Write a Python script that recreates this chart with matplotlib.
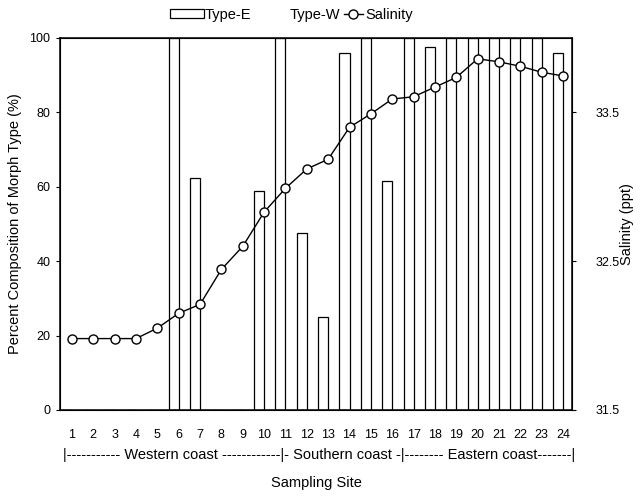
import matplotlib
matplotlib.use("Agg")
import matplotlib.pyplot as plt
from matplotlib.patches import Patch
from matplotlib.lines import Line2D

plt.rcParams["font.family"] = ["Liberation Sans", "DejaVu Sans"]

# ── data ──
sites = list(range(1, 25))
type_e = [0, 0, 0, 0, 0, 100, 62.5, 0, 0, 59, 100, 47.5, 25, 96, 100, 61.5,
          100, 97.5, 100, 100, 100, 100, 100, 96]
type_w = [100 - v for v in type_e]
salinity = [31.98, 31.98, 31.98, 31.98, 32.05, 32.15, 32.21, 32.445, 32.60, 32.83,
            32.99, 33.12, 33.185, 33.40, 33.49, 33.59, 33.605, 33.67, 33.735, 33.86,
            33.84, 33.81, 33.77, 33.745]
left_ticks = [0, 20, 40, 60, 80, 100]
right_ticks = [31.5, 32.5, 33.5]
coast_text = ("|" + "-" * 11 + " Western coast " + "-" * 12
              + "|- Southern coast -|" + "-" * 8 + " Eastern coast" + "-" * 7 + "|")

W, H = 641, 496
fig = plt.figure(figsize=(W / 100, H / 100), dpi=100)
ax = fig.add_axes([60 / W, 1 - 410 / H, 512 / W, 372 / H])

bw = 0.47
ax.bar(sites, type_w, width=bw, align="edge", color="white",
       edgecolor="none", zorder=1)
ax.bar(sites, type_e, width=-bw, align="edge", color="white",
       edgecolor="black", linewidth=0.9, zorder=2)

ax.set_xlim(0.44, 24.42)
ax.set_ylim(0, 100)
ax.set_yticks(left_ticks)
ax.set_xticks(sites)
ax.set_xticklabels([str(s) for s in sites], fontsize=9)
ax.tick_params(axis="x", length=0, pad=14)
ax.tick_params(axis="y", direction="out", length=3, labelsize=9, pad=4)
ax.set_ylabel("Percent Composition of Morph Type (%)", fontsize=10.5, labelpad=5)

for sp in ax.spines.values():
    sp.set_linewidth(1.1)

ax2 = ax.twinx()
ax2.plot(sites, salinity, color="black", linewidth=1.0, marker="o",
         markersize=6.5, markerfacecolor="white", markeredgecolor="black",
         markeredgewidth=1.0, zorder=3)
ax2.set_ylim(31.5, 34.0)
ax2.set_yticks(right_ticks)
ax2.set_yticklabels([f"{t:.1f}" for t in right_ticks])
ax2.tick_params(axis="y", direction="out", length=3, labelsize=9, pad=14)
ax2.set_ylabel("Salinity (ppt)", fontsize=10.5, labelpad=0)

fig.text(63 / W, 1 - 455 / H, coast_text, fontsize=10.5, ha="left", va="center")
fig.text(316 / W, 1 - 483 / H, "Sampling Site", fontsize=10.5, ha="center", va="center")

bar_handles = [
    Patch(facecolor="white", edgecolor="black", linewidth=0.9),
    Patch(facecolor="white", edgecolor="none"),
]
fig.legend(bar_handles, ["Type-E", "Type-W"], ncol=2, frameon=False,
           loc="center left", bbox_to_anchor=(170 / W, 1 - 15 / H),
           fontsize=10.5, handlelength=2.3, handleheight=0.6,
           handletextpad=0.05, columnspacing=0.3,
           borderpad=0, borderaxespad=0)
line_handle = Line2D([0], [0], color="black", linewidth=1.0, marker="o",
                     markersize=6.5, markerfacecolor="white",
                     markeredgecolor="black")
fig.legend([line_handle], ["Salinity"], frameon=False, loc="center left",
           bbox_to_anchor=(344 / W, 1 - 15 / H), fontsize=10.5,
           handlelength=1.3, handletextpad=0.15, borderpad=0, borderaxespad=0)

fig.savefig("out.png", dpi=100)
